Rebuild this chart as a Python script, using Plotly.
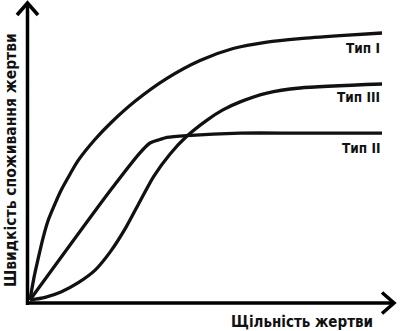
import plotly.graph_objects as go

# ---- data (prey density vs consumption rate) ----
type1_x = [0, 0.11, 0.23, 0.37, 0.51, 0.71, 0.88, 1.14, 1.36, 1.85, 2.30, 3.01, 3.89, 4.83, 5.77, 6.73, 7.67, 8.81, 10]
type1_y = [0, 0.82, 1.54, 2.32, 2.96, 3.60, 4.10, 4.72, 5.21, 6.02, 6.64, 7.47, 8.30, 8.97, 9.42, 9.66, 9.79, 9.90, 10]

type2_x = [0, 2.27, 3.13, 3.41, 3.69, 3.89, 4.46, 5.97, 7.67, 10]
type2_y = [0, 4.08, 5.52, 5.88, 6.01, 6.09, 6.16, 6.25, 6.25, 6.25]

type3_x = [0, 0.43, 0.88, 1.36, 1.85, 2.30, 2.73, 3.13, 3.52, 3.98, 4.46, 5.03, 5.48, 5.97, 6.73, 7.67, 10]
type3_y = [0, 0.10, 0.30, 0.64, 1.12, 1.84, 2.73, 3.71, 4.64, 5.47, 6.14, 6.74, 7.12, 7.42, 7.75, 7.94, 8.09]

labels = ["Тип I", "Тип II", "Тип III"]
x_title = "Щільність жертви"
y_title = "Швидкість споживання жертви"

W, H = 400, 331
SX, SY = 35.2, 26.7   # px per data unit
OX, OY = 30, 300      # origin pixel

def dx(px):
    return (px - OX) / SX

def dy(py):
    return (OY - py) / SY

FONT = "Liberation Sans Narrow, DejaVu Sans Condensed, Arial Narrow, sans-serif"

fig = go.Figure()
line = dict(color="#111111", width=3.3, shape="spline", smoothing=0.7)
for xs, ys, name in [(type1_x, type1_y, labels[0]), (type2_x, type2_y, labels[1]), (type3_x, type3_y, labels[2])]:
    fig.add_trace(go.Scatter(x=xs, y=ys, mode="lines", line=line, name=name,
                             hoverinfo="skip", cliponaxis=False))

# axes with open arrowheads
ax_col = "#000000"
shapes = [
    dict(type="line", x0=dx(26), y0=dy(303), x1=dx(393), y1=dy(303)),
    dict(type="line", x0=dx(27.5), y0=dy(305), x1=dx(27.5), y1=dy(4)),
    dict(type="path", path=f"M{dx(382)},{dy(292.5)} L{dx(394)},{dy(303)} L{dx(382)},{dy(313.5)}"),
    dict(type="path", path=f"M{dx(17)},{dy(15)} L{dx(27.5)},{dy(3)} L{dx(38)},{dy(15)}"),
]
for s in shapes:
    s.update(xref="x", yref="y", line=dict(color=ax_col, width=3.5))
fig.update_layout(shapes=shapes)

ann_font = dict(family=FONT, size=13.5, color="#111111")
fig.add_annotation(x=type1_x[-1], y=dy(48), text="<b>" + labels[0] + "</b>", showarrow=False,
                   xanchor="right", yanchor="middle", font=ann_font)
fig.add_annotation(x=type3_x[-1], y=dy(97), text="<b>" + labels[2] + "</b>", showarrow=False,
                   xanchor="right", yanchor="middle", font=ann_font)
fig.add_annotation(x=type2_x[-1], y=dy(148), text="<b>" + labels[1] + "</b>", showarrow=False,
                   xanchor="right", yanchor="middle", font=ann_font)

fig.add_annotation(x=dx(302), y=dy(322), text="<b>" + x_title + "</b>", showarrow=False,
                   xanchor="center", yanchor="middle",
                   font=dict(family=FONT, size=15, color="#111111"))
fig.add_annotation(x=dx(11), y=dy(160), text="<b>" + y_title + "</b>", showarrow=False,
                   xanchor="center", yanchor="middle", textangle=-90,
                   font=dict(family=FONT, size=15.5, color="#111111"))

fig.update_layout(
    width=W, height=H,
    margin=dict(l=0, r=0, t=0, b=0),
    paper_bgcolor="white", plot_bgcolor="white",
    showlegend=False,
    xaxis=dict(range=[dx(0), dx(W)], visible=False, fixedrange=True),
    yaxis=dict(range=[dy(H), dy(0)], visible=False, fixedrange=True),
)

fig.write_html("out.html", config={"displayModeBar": False})
